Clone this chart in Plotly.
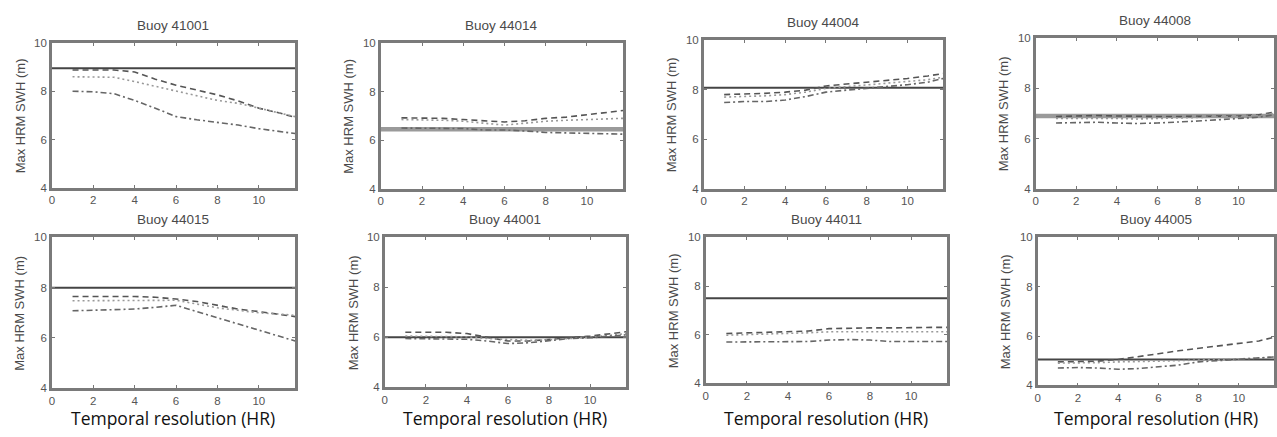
import plotly.graph_objects as go

W, H = 1277, 437

# ---------------- data ----------------
titles = ["Buoy 41001", "Buoy 44014", "Buoy 44004", "Buoy 44008",
          "Buoy 44015", "Buoy 44001", "Buoy 44011", "Buoy 44005"]

hours = [1, 2, 3, 4, 5, 6, 7, 8, 9, 10, 11, 11.75]

# reference (observed) maximum SWH -> horizontal line
observed_max = [8.95, 6.45, 8.08, 6.9, 8.0, 6.0, 7.5, 5.05]

series_dashed = [
    [8.88, 8.88, 8.88, 8.8, 8.5, 8.25, 8.05, 7.85, 7.6, 7.3, 7.1, 6.92],
    [6.92, 6.92, 6.9, 6.85, 6.8, 6.75, 6.8, 6.9, 6.95, 7.05, 7.15, 7.22],
    [7.8, 7.82, 7.85, 7.9, 7.98, 8.15, 8.22, 8.32, 8.38, 8.45, 8.55, 8.65],
    [6.88, 6.9, 6.92, 6.9, 6.88, 6.88, 6.88, 6.88, 6.9, 6.9, 6.95, 7.05],
    [7.65, 7.65, 7.65, 7.65, 7.62, 7.55, 7.45, 7.3, 7.15, 7.05, 6.95, 6.85],
    [6.2, 6.2, 6.2, 6.15, 6.0, 5.85, 5.85, 5.9, 5.98, 6.05, 6.15, 6.22],
    [6.05, 6.08, 6.1, 6.12, 6.15, 6.25, 6.28, 6.28, 6.28, 6.3, 6.3, 6.3],
    [4.95, 4.95, 4.98, 5.05, 5.15, 5.28, 5.4, 5.5, 5.6, 5.7, 5.8, 5.95],
]
series_dotted = [
    [8.6, 8.6, 8.58, 8.4, 8.2, 8.0, 7.8, 7.62, 7.5, 7.3, 7.1, 6.95],
    [6.85, 6.85, 6.82, 6.78, 6.7, 6.62, 6.7, 6.78, 6.82, 6.85, 6.88, 6.9],
    [7.7, 7.72, 7.75, 7.8, 7.9, 8.05, 8.12, 8.2, 8.25, 8.32, 8.4, 8.5],
    [6.8, 6.8, 6.82, 6.8, 6.78, 6.8, 6.82, 6.85, 6.85, 6.88, 6.92, 7.0],
    [7.48, 7.48, 7.48, 7.48, 7.5, 7.5, 7.35, 7.2, 7.1, 7.0, 6.95, 6.9],
    [6.05, 6.05, 6.05, 6.02, 5.95, 5.9, 5.88, 5.9, 5.95, 6.0, 6.08, 6.15],
    [5.98, 6.0, 6.02, 6.05, 6.08, 6.12, 6.12, 6.12, 6.1, 6.1, 6.12, 6.12],
    [4.9, 4.9, 4.92, 4.95, 4.95, 4.98, 5.0, 5.02, 5.05, 5.08, 5.1, 5.15],
]
series_dashdot = [
    [8.0, 7.98, 7.9, 7.62, 7.3, 6.95, 6.82, 6.72, 6.6, 6.45, 6.35, 6.25],
    [6.5, 6.5, 6.5, 6.48, 6.42, 6.42, 6.38, 6.32, 6.3, 6.28, 6.28, 6.25],
    [7.48, 7.52, 7.52, 7.58, 7.72, 7.9, 7.98, 8.05, 8.12, 8.2, 8.3, 8.45],
    [6.62, 6.65, 6.65, 6.62, 6.6, 6.62, 6.65, 6.7, 6.75, 6.8, 6.85, 6.95],
    [7.08, 7.1, 7.12, 7.15, 7.22, 7.3, 7.05, 6.8, 6.55, 6.3, 6.07, 5.88],
    [5.95, 5.95, 5.95, 5.92, 5.85, 5.75, 5.78, 5.85, 5.95, 5.98, 6.05, 6.1],
    [5.7, 5.7, 5.7, 5.72, 5.72, 5.78, 5.8, 5.78, 5.72, 5.72, 5.72, 5.72],
    [4.7, 4.72, 4.7, 4.65, 4.68, 4.75, 4.82, 4.95, 5.0, 5.05, 5.1, 5.15],
]

x_range = [0, 11.75]
y_range = [4, 10]
x_ticks = [0, 2, 4, 6, 8, 10]
y_ticks = [4, 6, 8, 10]
y_label = "Max HRM SWH (m)"
x_label = "Temporal resolution (HR)"

# ---------------- layout geometry (pixels) ----------------
panel_px = [
    (49, 293, 38, 187), (379, 622, 38, 188), (703, 943, 35, 188), (1036, 1275, 33, 188),
    (49, 293, 238, 393), (383, 625, 238, 392), (705, 947, 238, 388), (1038, 1275, 238, 390),
]
thick_line = [False, True, False, True, False, False, False, False]

fig = go.Figure()
annotations = []
tick_font = dict(family="Liberation Sans, Arial, sans-serif", size=11.5, color="#555")

for i in range(8):
    xa = "x" if i == 0 else f"x{i+1}"
    ya = "y" if i == 0 else f"y{i+1}"
    xl = "xaxis" if i == 0 else f"xaxis{i+1}"
    yl = "yaxis" if i == 0 else f"yaxis{i+1}"
    x0, x1, y0, y1 = panel_px[i]

    # horizontal observed line
    hl_color = "#9a9a9a" if thick_line[i] else "#454545"
    hl_w = 4.5 if thick_line[i] else 2
    fig.add_trace(go.Scatter(x=x_range, y=[observed_max[i]] * 2, mode="lines",
                             line=dict(color=hl_color, width=hl_w),
                             xaxis=xa, yaxis=ya, showlegend=False, hoverinfo="skip"))
    fig.add_trace(go.Scatter(x=hours, y=series_dashed[i], mode="lines",
                             line=dict(color="#555", width=1.6, dash="6px,4px"),
                             xaxis=xa, yaxis=ya, showlegend=False))
    fig.add_trace(go.Scatter(x=hours, y=series_dotted[i], mode="lines",
                             line=dict(color="#999", width=1.6, dash="2px,3px"),
                             xaxis=xa, yaxis=ya, showlegend=False))
    fig.add_trace(go.Scatter(x=hours, y=series_dashdot[i], mode="lines",
                             line=dict(color="#666", width=1.6, dash="6px,3px,2px,3px"),
                             xaxis=xa, yaxis=ya, showlegend=False))

    fig.layout[xl] = dict(domain=[x0 / W, x1 / W], range=x_range, anchor=ya,
                          tickvals=x_ticks, ticks="inside", ticklen=3, tickcolor="#777",
                          showline=True, linecolor="#7a7a7a", linewidth=2.5, mirror="ticks",
                          showgrid=False, zeroline=False, tickfont=tick_font, fixedrange=True)
    fig.layout[yl] = dict(domain=[1 - y1 / H, 1 - y0 / H], range=y_range, anchor=xa,
                          tickvals=y_ticks, ticks="inside", ticklen=3, tickcolor="#777",
                          showline=True, linecolor="#7a7a7a", linewidth=2.5, mirror="ticks",
                          showgrid=False, zeroline=False, tickfont=tick_font, fixedrange=True)

    # panel title
    annotations.append(dict(text=titles[i], x=(x0 + x1) / 2 / W, y=1 - (y0 - 18) / H,
                            xref="paper", yref="paper", showarrow=False,
                            xanchor="center", yanchor="middle",
                            font=dict(family="Liberation Sans, Arial, sans-serif", size=13.5, color="#4a4a4a")))
    # y-axis title
    annotations.append(dict(text=y_label, x=(x0 - 32) / W, y=1 - (y0 + y1) / 2 / H,
                            xref="paper", yref="paper", showarrow=False, textangle=-90,
                            xanchor="center", yanchor="middle",
                            font=dict(family="Liberation Sans, Arial, sans-serif", size=13, color="#4a4a4a")))
    if i >= 4:
        annotations.append(dict(text=x_label, x=(x0 + x1) / 2 / W, y=0, yshift=0,
                                xref="paper", yref="paper", showarrow=False,
                                xanchor="center", yanchor="bottom", borderpad=0,
                                font=dict(family="Open Sans, sans-serif", size=17.5, color="#111")))

fig.update_layout(width=W, height=H, margin=dict(l=0, r=0, t=0, b=0),
                  paper_bgcolor="white", plot_bgcolor="white",
                  annotations=annotations, showlegend=False)

fig.write_html("out.html", config={"displayModeBar": False})
